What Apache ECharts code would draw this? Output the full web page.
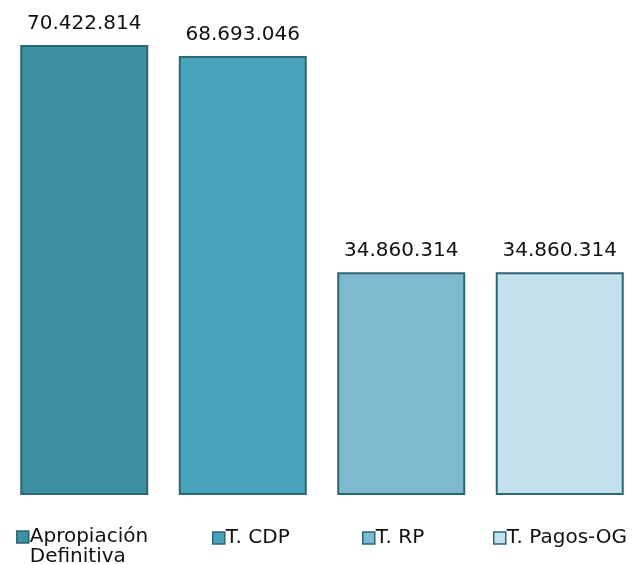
<!DOCTYPE html>
<html>
<head>
<meta charset="utf-8">
<script src="https://cdn.jsdelivr.net/npm/echarts@6/dist/echarts.min.js"></script>
<style>
  html, body { margin: 0; padding: 0; background: #fff; }
  #chart { width: 633px; height: 564px; }
</style>
</head>
<body>
<div id="chart"></div>
<script>
// datos
var categorias = ['Apropiación Definitiva', 'T. CDP', 'T. RP', 'T. Pagos-OG'];
var valores = [70422814, 68693046, 34860314, 34860314];
var colores = ['#3f8fa2', '#47a3ba', '#7db9cf', '#c2e1ed'];
var leyendaIzq = [16, 212, 362, 493];

function miles(v) {
    return String(v).replace(/\B(?=(\d{3})+(?!\d))/g, '.');
}

var chart = echarts.init(document.getElementById('chart'));

var series = categorias.map(function (nombre, i) {
    var data = categorias.map(function (c, j) { return j === i ? valores[i] : '-'; });
    return {
        name: nombre,
        type: 'bar',
        data: data,
        barWidth: 128,
        barGap: '-100%',
        itemStyle: {
            color: colores[i],
            borderColor: '#2c6677',
            borderWidth: 2
        },
        label: {
            show: true,
            position: 'top',
            distance: 11,
            color: '#111',
            fontFamily: 'DejaVu Sans',
            fontSize: 20,
            formatter: function (p) { return miles(p.value); }
        }
    };
});

// una leyenda por serie para fijar su posicion
var leyendas = categorias.map(function (nombre, i) {
    return {
        data: [nombre],
        left: leyendaIzq[i],
        top: i === 0 ? 507 : 528,
        icon: 'rect',
        itemWidth: 12,
        itemHeight: 12,
        itemGap: 0,
        padding: 0,
        selectedMode: false,
        itemStyle: { borderColor: '#2c6677', borderWidth: 1.5 },
        textStyle: {
            color: '#111',
            fontFamily: 'DejaVu Sans',
            fontSize: 20,
            padding: [0, 0, 0, -4]
        },
        formatter: function (n) {
            return n === 'Apropiación Definitiva' ? '\nApropiación\nDefinitiva' : n;
        }
    };
});

var option = {
    animation: false,
    grid: { left: 5, top: 45, width: 634, bottom: 69, outerBoundsMode: 'none' },
    xAxis: {
        type: 'category',
        data: categorias,
        show: false
    },
    yAxis: {
        type: 'value',
        min: 0,
        max: valores[0],
        show: false
    },
    legend: leyendas,
    series: series
};

chart.setOption(option);
</script>
</body>
</html>
